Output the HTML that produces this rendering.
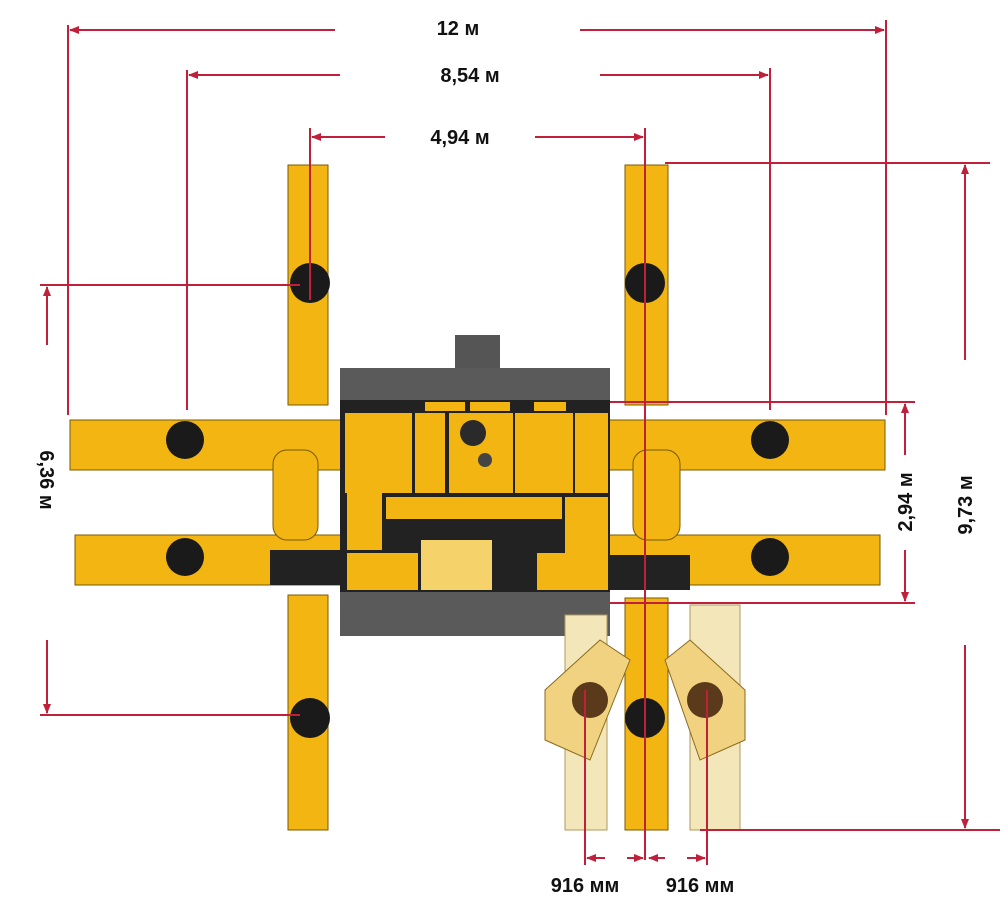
<!DOCTYPE html>
<html><head><meta charset="utf-8"><style>
html,body{margin:0;padding:0;background:#fff;}
svg{display:block}
text{font-family:"Liberation Sans",sans-serif;font-weight:bold;font-size:20px;fill:#111}
</style></head><body>
<svg width="1008" height="915" viewBox="0 0 1008 915" xmlns="http://www.w3.org/2000/svg">
<defs>
<marker id="a" markerWidth="10" markerHeight="10" refX="9" refY="5" orient="auto-start-reverse" markerUnits="userSpaceOnUse"><path d="M0,1 L10,5 L0,9 z" fill="#c0203a"/></marker>
</defs>
<!-- gray chassis -->
<rect x="455" y="335" width="45" height="37" fill="#555"/>
<rect x="340" y="368" width="270" height="34" fill="#5a5a5a"/>
<rect x="340" y="588" width="270" height="48" fill="#5a5a5a"/>
<!-- vertical booms -->
<g fill="#f2b512" stroke="#7a5a00" stroke-width="1">
<rect x="288" y="165" width="40" height="240"/>
<rect x="288" y="595" width="40" height="235"/>
<rect x="625" y="165" width="43" height="240"/>
<rect x="70" y="420" width="272" height="50"/>
<rect x="75" y="535" width="267" height="50"/>
<rect x="608" y="420" width="277" height="50"/>
<rect x="608" y="535" width="272" height="50"/>
<rect x="273" y="450" width="45" height="90" rx="14"/>
<rect x="633" y="450" width="47" height="90" rx="14"/>
</g>
<rect x="270" y="550" width="70" height="35" fill="#222"/>
<rect x="605" y="555" width="85" height="35" fill="#222"/>
<!-- bottom right pale booms -->
<rect x="565" y="615" width="42" height="215" fill="#f3e6b8" stroke="#b09a60"/>
<rect x="690" y="605" width="50" height="225" fill="#f3e6b8" stroke="#b09a60"/>
<rect x="625" y="598" width="43" height="232" fill="#f2b512" stroke="#7a5a00"/>
<path d="M545,690 L600,640 L630,660 L590,760 L545,740z" fill="#f0d280" stroke="#8a6a20"/>
<path d="M745,690 L690,640 L665,660 L700,760 L745,740z" fill="#f0d280" stroke="#8a6a20"/>
<!-- heads -->
<g fill="#1a1a1a">
<circle cx="310" cy="283" r="20"/><circle cx="310" cy="718" r="20"/>
<circle cx="645" cy="283" r="20"/><circle cx="645" cy="718" r="20"/>
<circle cx="185" cy="440" r="19"/><circle cx="185" cy="557" r="19"/>
<circle cx="770" cy="440" r="19"/><circle cx="770" cy="557" r="19"/>
</g>
<circle cx="590" cy="700" r="18" fill="#5a3a1a"/><circle cx="705" cy="700" r="18" fill="#5a3a1a"/>
<!-- body -->
<rect x="340" y="400" width="270" height="192" fill="#222"/>
<g fill="#f2b512">
<rect x="345" y="413" width="67" height="80"/>
<rect x="415" y="413" width="30" height="80"/>
<rect x="449" y="413" width="64" height="80"/>
<rect x="515" y="413" width="58" height="80"/>
<rect x="575" y="413" width="33" height="80"/>
<rect x="386" y="497" width="176" height="22"/>
<rect x="565" y="497" width="43" height="70"/>
<rect x="347" y="428" width="35" height="122"/>
<rect x="347" y="553" width="71" height="37"/>
<rect x="537" y="553" width="71" height="37"/>
<rect x="425" y="402" width="40" height="9"/><rect x="470" y="402" width="40" height="9"/><rect x="534" y="402" width="32" height="9"/>
</g>
<rect x="421" y="540" width="71" height="50" fill="#f5d36a"/>
<circle cx="473" cy="433" r="13" fill="#2a2a2a"/>
<circle cx="485" cy="460" r="7" fill="#444"/>
<!-- dimension lines -->
<g stroke="#c0203a" stroke-width="2" fill="none">
<line x1="68" y1="25" x2="68" y2="415"/><line x1="886" y1="20" x2="886" y2="415"/>
<line x1="70" y1="30" x2="335" y2="30" marker-start="url(#a)"/><line x1="580" y1="30" x2="884" y2="30" marker-end="url(#a)"/>
<line x1="187" y1="70" x2="187" y2="410"/><line x1="770" y1="68" x2="770" y2="410"/>
<line x1="189" y1="75" x2="340" y2="75" marker-start="url(#a)"/><line x1="600" y1="75" x2="768" y2="75" marker-end="url(#a)"/>
<line x1="310" y1="128" x2="310" y2="300"/><line x1="645" y1="128" x2="645" y2="860"/>
<line x1="312" y1="137" x2="385" y2="137" marker-start="url(#a)"/><line x1="535" y1="137" x2="643" y2="137" marker-end="url(#a)"/>
<line x1="665" y1="163" x2="990" y2="163"/><line x1="700" y1="830" x2="1000" y2="830"/>
<line x1="965" y1="165" x2="965" y2="360" marker-start="url(#a)"/><line x1="965" y1="645" x2="965" y2="828" marker-end="url(#a)"/>
<line x1="610" y1="402" x2="915" y2="402"/><line x1="610" y1="603" x2="915" y2="603"/>
<line x1="905" y1="404" x2="905" y2="455" marker-start="url(#a)"/><line x1="905" y1="550" x2="905" y2="601" marker-end="url(#a)"/>
<line x1="40" y1="285" x2="300" y2="285"/><line x1="40" y1="715" x2="300" y2="715"/>
<line x1="47" y1="287" x2="47" y2="345" marker-start="url(#a)"/><line x1="47" y1="640" x2="47" y2="713" marker-end="url(#a)"/>
<line x1="585" y1="690" x2="585" y2="865"/><line x1="707" y1="690" x2="707" y2="865"/>
<line x1="587" y1="858" x2="605" y2="858" marker-start="url(#a)"/><line x1="627" y1="858" x2="643" y2="858" marker-end="url(#a)"/>
<line x1="649" y1="858" x2="665" y2="858" marker-start="url(#a)"/><line x1="687" y1="858" x2="705" y2="858" marker-end="url(#a)"/>
</g>
<text x="458" y="35" text-anchor="middle">12 м</text>
<text x="470" y="82" text-anchor="middle">8,54 м</text>
<text x="460" y="144" text-anchor="middle">4,94 м</text>
<text transform="translate(972,505) rotate(-90)" text-anchor="middle">9,73 м</text>
<text transform="translate(912,502) rotate(-90)" text-anchor="middle">2,94 м</text>
<text transform="translate(40,480) rotate(90)" text-anchor="middle">6,36 м</text>
<text x="585" y="892" text-anchor="middle">916 мм</text>
<text x="700" y="892" text-anchor="middle">916 мм</text>
</svg>
</body></html>
